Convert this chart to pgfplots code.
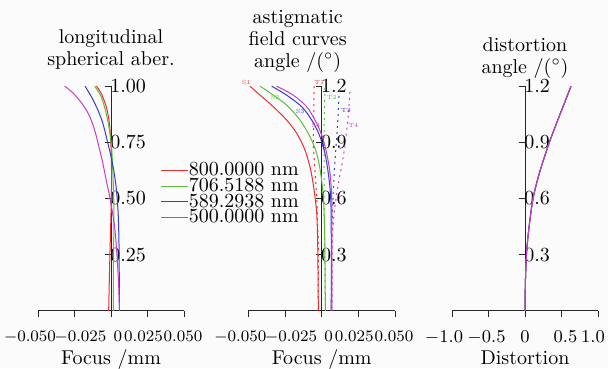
\documentclass[border=0pt]{standalone}
\usepackage{pgfplots}
\pgfplotsset{compat=1.18}
\definecolor{cR}{RGB}{240,45,45}
\definecolor{cG}{RGB}{90,190,60}
\definecolor{cB}{RGB}{55,60,205}
\definecolor{cM}{RGB}{200,60,200}
\definecolor{bg}{RGB}{251,251,251}
\newcommand\sh[2]{\hspace*{#1}#2\hspace*{-#1}}
\tikzset{
  Tline/.style={line width=0.5pt, dash pattern=on 1pt off 2pt},
  lab/.style={font=\fontsize{3}{3}\selectfont, inner sep=0pt},
}
\pgfplotsset{
  panel/.style={
    scale only axis, anchor=south west, clip=false,
    axis x line=bottom, axis y line=center,
    axis line style={-, black!85, line width=0.5pt},
    tick style={black!85, line width=0.5pt},
    major tick length=3pt, tick align=outside,
    scaled x ticks=false, scaled y ticks=false,
    yticklabel style={anchor=west, inner sep=1pt, xshift=1.5pt},
    xticklabel style={inner sep=1.5pt, yshift=-5.5pt, font=\fontsize{8}{9}\selectfont},
    xlabel style={at={(axis description cs:0.5,0)}, anchor=base, yshift=-27pt},
    title style={align=center, font=\fontsize{10}{11}\selectfont},
    every axis plot/.append style={line width=0.5pt},
  },
}
\begin{document}
\begin{tikzpicture}
\fill[bg] (0,0) rectangle (304pt,184pt);
\useasboundingbox (0,0) rectangle (304pt,184pt);
% ---------- panel 1 ----------
\begin{axis}[panel, at={(19pt,28.6pt)}, width=73pt, height=112.3pt,
  xmin=-0.05, xmax=0.05, ymin=0, ymax=1,
  xtick={-0.05,-0.025,0,0.025,0.05},
  xticklabels={\sh{-4pt}{$-0.050$},\sh{3pt}{$-0.025$},\sh{3.4pt}{$0$},\sh{-2pt}{$0.025$},\sh{-0.5pt}{$0.050$}},
  ytick={0.25,0.5,0.75,1}, yticklabels={0.25,0.50,0.75,1.00},
  xlabel={Focus /mm},
  title={longitudinal\\spherical aber.},
  title style={yshift=-1.2pt},
  legend style={at={(0.838,0.660)}, anchor=north west, draw=none, fill=none,
    inner sep=0pt, column sep=0pt, row sep=0pt,
    nodes={inner sep=0pt, text height=6.5pt, text depth=1.3pt}},
  legend cell align=left,
  legend image code/.code={\draw[#1] (0pt,0pt) -- (13.5pt,0pt);},
]
\addplot[cR, smooth] coordinates {(-0.0100,1.0)(-0.0067,0.968)(-0.0033,0.909)(-0.0011,0.835)(0,0.731)(0.0004,0.582)(0,0.434)(-0.0009,0.21)(-0.0016,0)};
\addlegendentry{800.0000 nm}
\addplot[cG, smooth] coordinates {(-0.0112,1.0)(-0.0067,0.953)(-0.0033,0.879)(-0.0011,0.805)(0.0004,0.731)(0.0015,0.582)(0.0020,0.434)(0.0017,0.21)(0.0017,0)};
\addlegendentry{706.5188 nm}
\addplot[cB, smooth] coordinates {(-0.0178,1.0)(-0.0134,0.953)(-0.0090,0.894)(-0.0056,0.835)(-0.0027,0.761)(0,0.687)(0.0022,0.613)(0.0037,0.539)(0.0049,0.434)(0.0055,0.287)(0.0058,0)};
\addlegendentry{589.2938 nm}
\addplot[cM, smooth] coordinates {(-0.0317,1.0)(-0.0257,0.968)(-0.0190,0.915)(-0.0145,0.864)(-0.0112,0.805)(-0.0083,0.731)(-0.0056,0.657)(-0.0033,0.582)(-0.0011,0.516)(0.0011,0.434)(0.0027,0.36)(0.0040,0.257)(0.0052,0.12)(0.0058,0)};
\addlegendentry{500.0000 nm}
\end{axis}
% ---------- panel 2 ----------
\begin{axis}[panel, at={(124.2pt,28.6pt)}, width=73.3pt, height=112.3pt,
  xmin=-0.05, xmax=0.05, ymin=0, ymax=1.2,
  xtick={-0.05,-0.025,0,0.025,0.05},
  xticklabels={\sh{-4pt}{$-0.050$},\sh{3pt}{$-0.025$},\sh{3.4pt}{$0$},\sh{-2pt}{$0.025$},\sh{-0.5pt}{$0.050$}},
  ytick={0.3,0.6,0.9,1.2}, yticklabels={0.3,0.6,0.9,1.2},
  xlabel={Focus /mm},
  title={astigmatic\\field curves\\angle /($^\circ$)},
  title style={xshift=-12pt, yshift=-2.5pt},
]
\addplot[cR, smooth] coordinates {(-0.0489,1.2)(-0.0420,1.152)(-0.0330,1.09)(-0.0239,1.019)(-0.0170,0.948)(-0.0114,0.859)(-0.0075,0.752)(-0.0052,0.645)(-0.0034,0.52)(-0.0027,0.342)(-0.0023,0)};
\addplot[cR, Tline] coordinates {(-0.0052,1.2)(-0.0057,0.88)(-0.0034,0.609)(-0.0023,0.342)(-0.0022,0)};
\addplot[cG, smooth] coordinates {(-0.0420,1.2)(-0.0330,1.152)(-0.0239,1.099)(-0.0148,1.019)(-0.0080,0.93)(-0.0034,0.841)(-0.0007,0.734)(0.0011,0.609)(0.0020,0.431)(0.0025,0)};
\addplot[cG, Tline] coordinates {(0.0022,1.19)(0.0016,0.973)(0.0016,0.58)(0.0025,0)};
\addplot[cB, smooth] coordinates {(-0.0341,1.2)(-0.0239,1.152)(-0.0136,1.09)(-0.0068,1.019)(-0.0016,0.939)(0.0022,0.841)(0.0045,0.734)(0.0061,0.609)(0.0065,0.431)(0.0065,0)};
\addplot[cB, Tline] coordinates {(0.0120,1.18)(0.0113,1.06)(0.0102,0.92)(0.0090,0.797)(0.0079,0.645)(0.0070,0.431)(0.0065,0)};
\addplot[cM, smooth] coordinates {(-0.0307,1.2)(-0.0194,1.152)(-0.0102,1.09)(-0.0046,1.019)(0,0.939)(0.0034,0.841)(0.0057,0.734)(0.0068,0.609)(0.0070,0.431)(0.0070,0)};
\addplot[cM, Tline] coordinates {(0.0193,1.17)(0.0181,1.043)(0.0159,0.88)(0.0136,0.773)(0.0106,0.645)(0.0084,0.52)(0.0072,0.38)(0.0070,0)};
\node[lab, text=cR] at (axis cs:-0.0515,1.218) {S1};
\node[lab, text=cR] at (axis cs:-0.0016,1.218) {T1};
\node[lab, text=cG] at (axis cs:-0.0318,1.140) {S2};
\node[lab, text=cG] at (axis cs:0.0068,1.140) {T2};
\node[lab, text=cB] at (axis cs:-0.0147,1.063) {S3};
\node[lab, text=cB] at (axis cs:0.0166,1.068) {T3};
\node[lab, text=cM] at (axis cs:-0.0039,0.992) {S4};
\node[lab, text=cM] at (axis cs:0.0215,0.992) {T4};
\end{axis}
% ---------- panel 3 ----------
\begin{axis}[panel, at={(226pt,28.6pt)}, width=73pt, height=112.3pt,
  xmin=-1, xmax=1, ymin=0, ymax=1.2,
  xtick={-1,-0.5,0,0.5,1},
  xticklabels={\sh{-4pt}{$-1.0$},\sh{-1pt}{$-0.5$},$0$,\sh{2pt}{$0.5$},\sh{-2.5pt}{$1.0$}},
  xticklabel style={font=\fontsize{9}{10}\selectfont},
  ytick={0.3,0.6,0.9,1.2}, yticklabels={0.3,0.6,0.9,1.2},
  xlabel={Distortion},
  title={distortion\\angle /($^\circ$)},
  title style={yshift=-5.5pt},
]
\addplot[cR, smooth] coordinates {(0,0)(0.005,0.15)(0.02,0.3)(0.05,0.43)(0.11,0.6)(0.2,0.74)(0.32,0.885)(0.43,1.0)(0.53,1.1)(0.63,1.2)};
\addplot[cG, smooth] coordinates {(0,0)(0.005,0.15)(0.02,0.3)(0.05,0.43)(0.11,0.6)(0.2,0.74)(0.32,0.885)(0.43,1.0)(0.53,1.1)(0.63,1.2)};
\addplot[cB, smooth] coordinates {(0,0)(0.005,0.15)(0.02,0.3)(0.05,0.43)(0.11,0.6)(0.2,0.74)(0.32,0.885)(0.43,1.0)(0.53,1.1)(0.63,1.2)};
\addplot[cM, smooth] coordinates {(0,0)(0.005,0.15)(0.02,0.3)(0.05,0.43)(0.11,0.6)(0.2,0.74)(0.32,0.885)(0.43,1.0)(0.53,1.1)(0.63,1.2)};
\end{axis}
\end{tikzpicture}
\end{document}
